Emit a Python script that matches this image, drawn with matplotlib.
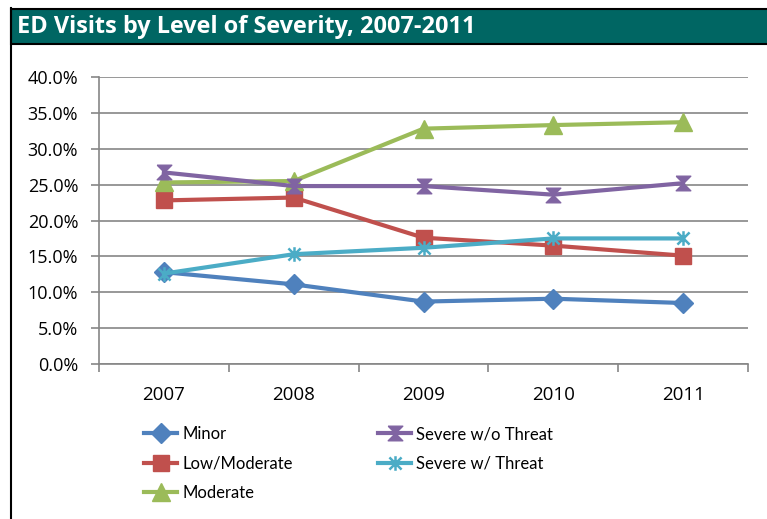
import matplotlib
matplotlib.use("Agg")
import matplotlib.pyplot as plt
from matplotlib.patches import Rectangle
from matplotlib.lines import Line2D
from matplotlib.path import Path
from matplotlib.ticker import FuncFormatter, FixedLocator

plt.rcParams['font.family'] = ['Lato', 'DejaVu Sans']

years = ['2007', '2008', '2009', '2010', '2011']
minor = [12.8, 11.1, 8.7, 9.1, 8.5]
low_moderate = [22.8, 23.2, 17.6, 16.5, 15.1]
moderate = [25.3, 25.5, 32.8, 33.3, 33.7]
severe_wo_threat = [26.7, 24.8, 24.8, 23.6, 25.2]
severe_w_threat = [12.6, 15.3, 16.2, 17.5, 17.5]

# marker shapes like the Excel ones
hourglass = Path([(-1, 1), (1, 1), (0, 0), (1, -1), (-1, -1), (0, 0), (-1, 1)])
asterisk = Path([(-1, -1), (1, 1), (-1, 1), (1, -1), (0, -1.2), (0, 1.2)],
                [Path.MOVETO, Path.LINETO, Path.MOVETO, Path.LINETO, Path.MOVETO, Path.LINETO])

series = [
    ('Minor', minor, '#4F81BD', 'D', 10.5),
    ('Low/Moderate', low_moderate, '#C0504D', 's', 11.5),
    ('Moderate', moderate, '#9BBB59', '^', 12.5),
    ('Severe w/o Threat', severe_wo_threat, '#8064A2', hourglass, 10.5),
    ('Severe w/ Threat', severe_w_threat, '#4BACC6', asterisk, 10.5),
]

W, H = 767, 519
fig = plt.figure(figsize=(W / 100, H / 100), dpi=100)

# frame + title bar
fig.add_artist(Line2D([11 / W, 11 / W], [0, 1 - 8 / H], color='black', lw=1.5))
fig.add_artist(Rectangle((11 / W, 1 - 44 / H), 1, 35 / H, facecolor='#006663',
                         edgecolor='black', lw=1.5))
fig.text(17 / W, 1 - 27 / H, 'ED Visits by Level of Severity, 2007-2011', color='white',
         fontsize=16.9, fontweight='bold', va='center', ha='left',
         family=['Open Sans', 'DejaVu Sans'])

ax = fig.add_axes([99 / W, 1 - 364 / H, 649 / W, 287 / H])
x = range(len(years))
lines = []
for name, vals, col, mk, ms in series:
    if mk is asterisk:
        l, = ax.plot(x, vals, color=col, lw=3, marker=mk, ms=ms, mew=1.8,
                     mec=col, label=name)
    else:
        l, = ax.plot(x, vals, color=col, lw=3, marker=mk, ms=ms, mfc=col, mec=col,
                     label=name)
    lines.append(l)

ax.set_xlim(-0.5, 4.5)
ax.set_ylim(0, 40)
ax.set_yticks(range(0, 41, 5))
ax.yaxis.set_major_formatter(FuncFormatter(lambda v, p: f'{v:.1f}%'))
ax.set_xticks(list(x))
ax.set_xticklabels(years)
ax.xaxis.set_minor_locator(FixedLocator([i - 0.5 for i in range(6)]))
ax.tick_params(axis='x', which='major', length=0, pad=16, labelsize=13.5,
               labelfontfamily='Open Sans')
ax.tick_params(axis='x', which='minor', length=6, color='#868686', width=1.2)
ax.tick_params(axis='y', length=6, color='#868686', width=1.2, pad=9, labelsize=13,
               labelfontfamily='Open Sans')
ax.grid(axis='y', color='#868686', lw=1.2)
ax.set_axisbelow(True)
for s in ['top', 'right']:
    ax.spines[s].set_visible(False)
for s in ['left', 'bottom']:
    ax.spines[s].set_color('#868686')
    ax.spines[s].set_linewidth(1.2)

leg_kw = dict(loc='upper left', frameon=False, fontsize=12, handlelength=2.0,
              handletextpad=0.3, labelspacing=0.8, numpoints=1, borderpad=0,
              borderaxespad=0)
fig.legend(handles=lines[:3], bbox_to_anchor=(144 / W, 1 - 426 / H), **leg_kw)
fig.legend(handles=lines[3:], bbox_to_anchor=(378 / W, 1 - 426 / H), **leg_kw)

fig.savefig('out.png', dpi=100)
